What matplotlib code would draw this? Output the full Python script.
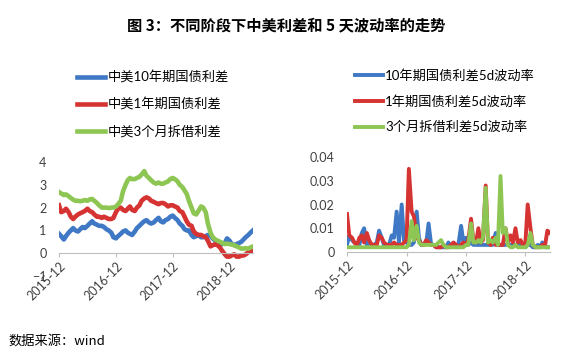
import numpy as np
import pandas as pd
import matplotlib
matplotlib.use('Agg')
import matplotlib.pyplot as plt
import matplotlib.dates as mdates

plt.rcParams['font.family'] = ['Lato', 'Noto Sans CJK SC', 'DejaVu Sans']

# semi-monthly observations, 2015-12 .. 2019-05
dates = pd.date_range('2015-12-01', periods=83, freq='SMS')

# left panel: spreads (%)
spread_10y = [0.85, 0.75, 0.6, 0.75, 0.9, 1.0, 1.1, 1.0, 0.95, 1.05,
              1.15, 1.1, 1.2, 1.3, 1.4, 1.3, 1.25, 1.2, 1.2, 1.15,
              1.05, 1.0, 0.9, 0.7, 0.65, 0.75, 0.85, 0.95, 1.0, 0.9,
              0.85, 0.8, 0.95, 1.1, 1.2, 1.3, 1.4, 1.45, 1.35, 1.3,
              1.35, 1.45, 1.55, 1.4, 1.35, 1.45, 1.5, 1.6, 1.65, 1.55,
              1.45, 1.3, 1.2, 1.05, 1.0, 1.0, 0.8, 0.7, 0.75, 0.8,
              0.7, 0.7, 0.75, 0.8, 0.75, 0.65, 0.55, 0.5, 0.45, 0.4,
              0.45, 0.65, 0.55, 0.4, 0.35, 0.4, 0.45, 0.5, 0.6, 0.7,
              0.8, 0.9, 1.0]
spread_1y = [2.1, 1.8, 1.85, 1.95, 1.8, 1.6, 1.5, 1.6, 1.7, 1.75,
             1.8, 1.85, 1.95, 1.85, 1.8, 1.7, 1.6, 1.6, 1.55, 1.6,
             1.55, 1.5, 1.5, 1.55, 1.8, 1.95, 2.0, 1.9, 1.85, 1.95,
             2.05, 1.9, 1.85, 2.0, 2.1, 2.3, 2.4, 2.45, 2.4, 2.3,
             2.25, 2.2, 2.15, 2.2, 2.2, 2.15, 2.05, 2.1, 2.1, 2.05,
             2.0, 1.85, 1.8, 1.6, 1.4, 1.25, 1.2, 0.95, 0.85, 0.8,
             0.8, 0.75, 0.7, 0.55, 0.3, 0.35, 0.4, 0.35, 0.25, 0.1,
             -0.05, -0.15, -0.15, -0.1, -0.05, -0.15, -0.15, -0.1, -0.1, -0.05,
             0.05, 0.1, 0.1]
spread_3m = [2.68, 2.62, 2.55, 2.58, 2.5, 2.42, 2.35, 2.3, 2.3, 2.28,
             2.3, 2.33, 2.3, 2.36, 2.38, 2.3, 2.2, 2.1, 2.0, 2.0,
             2.0, 1.98, 2.0, 2.0, 2.05, 2.15, 2.3, 2.7, 3.0, 3.2,
             3.3, 3.25, 3.25, 3.3, 3.35, 3.45, 3.6, 3.4, 3.3, 3.2,
             3.1, 3.05, 3.1, 3.05, 3.05, 3.1, 3.15, 3.25, 3.3, 3.25,
             3.15, 3.0, 2.9, 2.75, 2.6, 2.3, 2.0, 1.75, 1.7, 1.85,
             2.05, 2.0, 1.8, 1.3, 0.9, 0.7, 0.6, 0.55, 0.5, 0.45,
             0.4, 0.42, 0.4, 0.38, 0.35, 0.3, 0.25, 0.2, 0.2, 0.22,
             0.2, 0.25, 0.3]

# right panel: 5-day volatility (x1e-3)
vol_10y = [3, 7, 5, 4, 3, 3, 8, 10, 3, 4,
           3, 3, 4, 9, 6, 3, 3, 3, 7, 6,
           17, 4, 20, 5, 4, 3, 3, 4, 17, 6,
           3, 3, 4, 12, 3, 3, 2, 2, 2, 2,
           2, 4, 2, 3, 2, 3, 11, 4, 6, 3,
           4, 3, 3, 3, 3, 3, 3, 3, 3, 3,
           8, 3, 3, 3, 3, 3, 3, 3, 3, 3,
           3, 3, 2, 3, 3, 2, 2, 3, 2, 4,
           2, 2, 2]
vol_1y = [16, 7, 6, 4, 3, 6, 7, 4, 8, 5,
          3, 3, 3, 7, 6, 4, 3, 3, 3, 4,
          3, 3, 3, 4, 5, 35, 17, 15, 6, 5,
          3, 3, 5, 4, 3, 3, 2, 2, 2, 3,
          2, 2, 3, 4, 3, 2, 3, 4, 3, 5,
          14, 5, 4, 10, 4, 5, 28, 4, 3, 6,
          3, 3, 3, 3, 10, 4, 7, 4, 10, 4,
          5, 3, 4, 20, 10, 3, 2, 2, 2, 3,
          3, 9, 8]
vol_3m = [2, 2, 2, 2, 2, 2, 2, 2, 2, 2,
          2, 2, 2, 2, 2, 2, 2, 2, 2, 2,
          2, 2, 2, 2, 2, 3, 13, 5, 11, 4,
          3, 3, 3, 3, 3, 3, 3, 4, 5, 3,
          2, 2, 2, 2, 2, 2, 2, 2, 3, 3,
          12, 4, 4, 5, 4, 6, 27, 4, 5, 4,
          6, 3, 32, 8, 10, 3, 2, 2, 3, 2,
          2, 2, 2, 3, 8, 3, 2, 2, 2, 2,
          2, 2, 2]

labels_left = ['中美10年期国债利差', '中美1年期国债利差', '中美3个月拆借利差']
labels_right = ['10年期国债利差5d波动率', '1年期国债利差5d波动率', '3个月拆借利差5d波动率']
colors = ['#3F78C5', '#D63333', '#8DC653']
tick_dates = pd.to_datetime(['2015-12-01', '2016-12-01', '2017-12-01', '2018-12-01'])

fig = plt.figure(figsize=(5.8, 3.53), dpi=100)
ax1 = fig.add_axes([59/580, 1 - 276/353, 194/580, 114/353])
ax2 = fig.add_axes([347/580, 1 - 252/353, 203/580, 95/353])

for s, c, lab in zip([spread_10y, spread_1y, spread_3m], colors, labels_left):
    ax1.plot(dates, s, color=c, lw=3.3, label=lab, solid_joinstyle='round')
for s, c, lab in zip([vol_10y, vol_1y, vol_3m], colors, labels_right):
    ax2.plot(dates, np.array(s) / 1000, color=c, lw=2.8, label=lab, solid_joinstyle='round')

ax1.set_ylim(-1, 4)
ax1.set_yticks([-1, 0, 1, 2, 3, 4])
ax2.set_ylim(0, 0.04)
ax2.set_yticks([0, 0.01, 0.02, 0.03, 0.04])
ax2.set_yticklabels(['0', '0.01', '0.02', '0.03', '0.04'])

for ax in (ax1, ax2):
    ax.set_xlim(dates[0], dates[-1])
    ax.set_xticks(tick_dates)
    ax.xaxis.set_major_formatter(mdates.DateFormatter('%Y-%m'))
    for sp in ['top', 'right', 'left']:
        ax.spines[sp].set_visible(False)
    ax.spines['bottom'].set_position(('data', 0))
    ax.spines['bottom'].set_color('#BFBFBF')
    ax.tick_params(axis='x', length=3, color='#BFBFBF', labelsize=9, pad=2)
    ax.tick_params(axis='y', length=0, labelsize=9, pad=9)
    plt.setp(ax.get_xticklabels(), rotation=45, ha='right', rotation_mode='anchor',
             color='#404040')
    plt.setp(ax.get_yticklabels(), color='#404040')

ax1.legend(loc='upper left', bbox_to_anchor=(77/580, 1 - 71/353), bbox_transform=fig.transFigure,
           frameon=False, fontsize=9.5, handlelength=2.1, handletextpad=0.2,
           labelspacing=1.05, borderpad=0, borderaxespad=0)
ax2.legend(loc='upper left', bbox_to_anchor=(355/580, 1 - 69/353), bbox_transform=fig.transFigure,
           frameon=False, fontsize=9.5, handlelength=2.1, handletextpad=0.2,
           labelspacing=1.0, borderpad=0, borderaxespad=0)

fig.text(286/580, 1 - 25/353, '图 3：不同阶段下中美利差和 5 天波动率的走势', ha='center', va='center',
         fontsize=11, fontweight='bold', family=['Noto Sans CJK SC', 'DejaVu Sans'])
fig.text(8/580, 1 - 341/353, '数据来源：wind', ha='left', va='center', fontsize=9.5,
         family=['Noto Sans CJK SC', 'DejaVu Sans'])

fig.savefig('out.png', dpi=100)
